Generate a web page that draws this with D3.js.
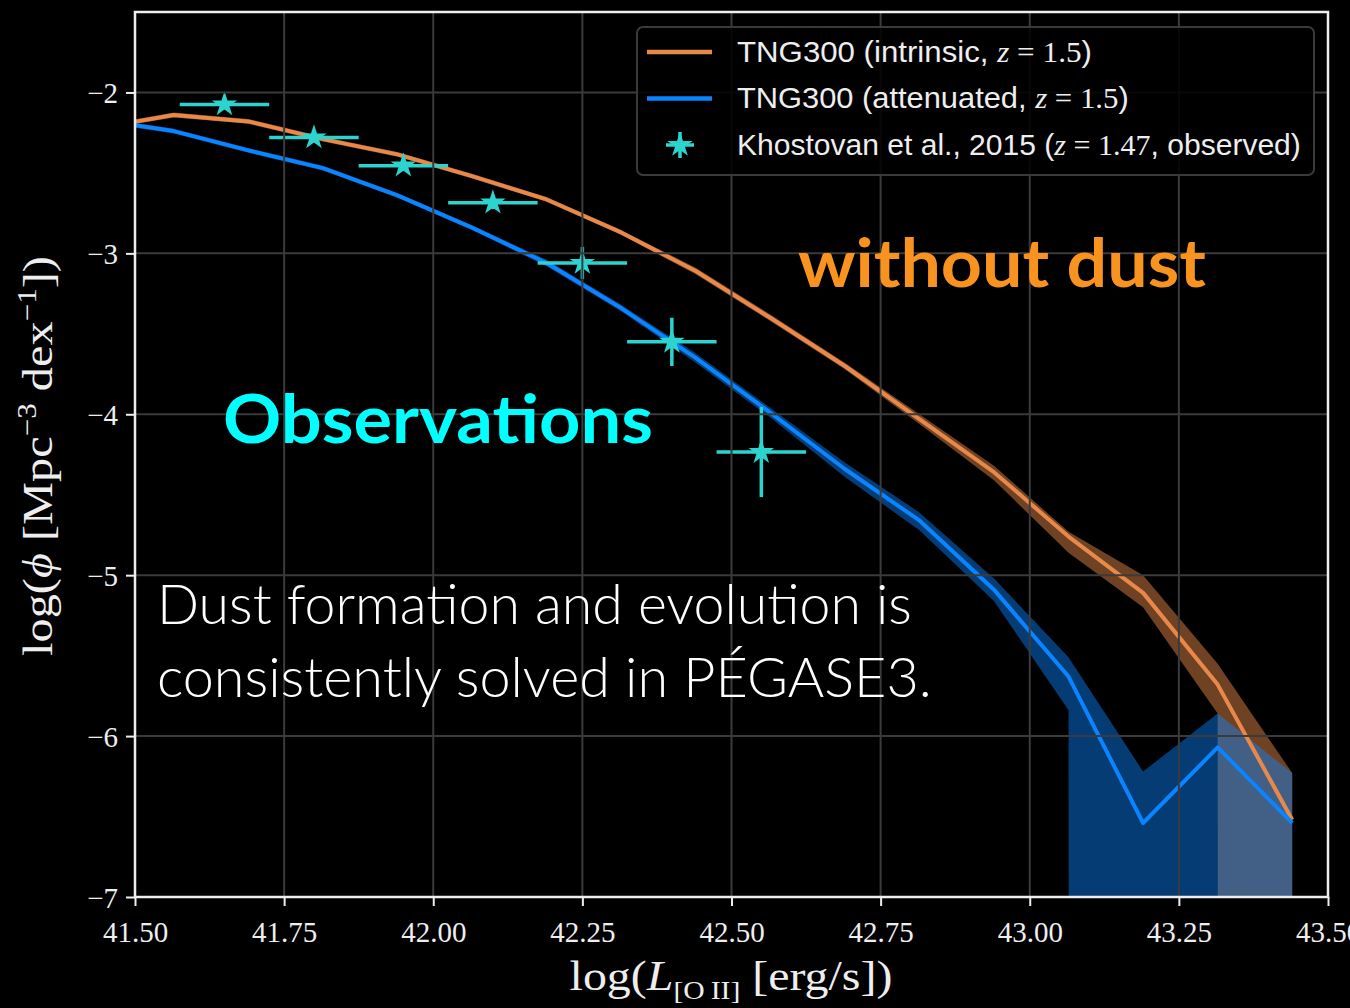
<!DOCTYPE html>
<html>
<head>
<meta charset="utf-8">
<script src="https://cdn.jsdelivr.net/npm/d3@7"></script>
<style>
  body { margin: 0; background: #000; }
</style>
</head>
<body>
<div id="chart"></div>
<script>
// luminosity bins of the simulated [O II] luminosity function
var logL = [41.44, 41.565, 41.69, 41.815, 41.94, 42.065, 42.19, 42.315, 42.44,
            42.565, 42.69, 42.815, 42.94, 43.065, 43.19, 43.315, 43.44];

// TNG300 intrinsic (no dust)
var intrinsic   = [-2.22, -2.14, -2.18, -2.29, -2.385, -2.52, -2.665, -2.87, -3.11,
                   -3.40, -3.70, -4.03, -4.36, -4.76, -5.11, -5.68, -6.52];
var intrinsicHi = [-2.205, -2.125, -2.165, -2.275, -2.37, -2.505, -2.65, -2.855, -3.09,
                   -3.38, -3.68, -4.00, -4.32, -4.73, -5.00, -5.55, -6.23];
var intrinsicLo = [-2.235, -2.155, -2.195, -2.305, -2.40, -2.535, -2.68, -2.885, -3.13,
                   -3.42, -3.72, -4.06, -4.41, -4.86, -5.20, -5.86, -Infinity];

// TNG300 attenuated (with dust)
var attenuated   = [-2.17, -2.24, -2.36, -2.47, -2.64, -2.84, -3.06, -3.34, -3.65,
                    -3.99, -4.34, -4.66, -5.09, -5.63, -6.54, -6.07, -6.54];
var attenuatedHi = [-2.155, -2.225, -2.345, -2.455, -2.625, -2.825, -3.04, -3.32, -3.62,
                    -3.96, -4.30, -4.61, -5.02, -5.51, -6.22, -5.86, -6.23];
var attenuatedLo = [-2.185, -2.255, -2.375, -2.485, -2.655, -2.855, -3.08, -3.36, -3.68,
                    -4.02, -4.39, -4.72, -5.16, -5.84, -Infinity, -Infinity, -Infinity];

// Khostovan et al. 2015, z = 1.47
var obsL    = [41.65, 41.80, 41.95, 42.10, 42.25, 42.40, 42.55];
var obsPhi  = [-2.075, -2.28, -2.455, -2.685, -3.06, -3.55, -4.235];
var obsPhiErr = [0.03, 0.03, 0.03, 0.04, 0.10, 0.15, 0.28];
var obsLErr = [0.075, 0.075, 0.075, 0.075, 0.075, 0.075, 0.075];

var xTicks = [41.5, 41.75, 42.0, 42.25, 42.5, 42.75, 43.0, 43.25, 43.5];
var yTicks = [-7, -6, -5, -4, -3, -2];

var width = 1350, height = 1008;
var margin = {top: 12, right: 22, bottom: 111, left: 135};

var orange = "#e8894a", blue = "#0a84ff", cyan = "#2dd4cf";
var serif = "'Liberation Serif', 'DejaVu Serif', serif";
var sans = "'Liberation Sans Narrow', 'Liberation Sans', Arial, sans-serif";

var x = d3.scaleLinear().domain([41.5, 43.5]).range([margin.left, width - margin.right]);
var y = d3.scaleLinear().domain([-7, -1.5]).range([height - margin.bottom, margin.top]);

// -inf (empty bin) goes far below the frame, like matplotlib does
var yv = v => isFinite(v) ? y(v) : y(-7) + 1e5;

var svg = d3.select("#chart").append("svg")
    .attr("width", width)
    .attr("height", height)
    .style("background", "#000")
    .style("display", "block");

svg.append("clipPath").attr("id", "plot")
  .append("rect")
    .attr("x", margin.left).attr("y", margin.top)
    .attr("width", x.range()[1] - margin.left)
    .attr("height", y.range()[0] - margin.top);

var plot = svg.append("g").attr("clip-path", "url(#plot)");

function band(lo, hi) {
    return d3.area()
        .x((d, i) => x(logL[i]))
        .y0((d, i) => yv(lo[i]))
        .y1((d, i) => yv(hi[i]))(logL);
}

plot.append("path").attr("d", band(intrinsicLo, intrinsicHi))
    .attr("fill", orange).attr("fill-opacity", 0.48);
plot.append("path").attr("d", band(attenuatedLo, attenuatedHi))
    .attr("fill", blue).attr("fill-opacity", 0.45);

// grid (above fills, below lines)
var grid = svg.append("g").attr("stroke", "#3b3b3b").attr("stroke-width", 2);
grid.selectAll(".gx").data(xTicks).join("line")
    .attr("x1", d => x(d)).attr("x2", d => x(d))
    .attr("y1", margin.top).attr("y2", y.range()[0]);
grid.selectAll(".gy").data(yTicks).join("line")
    .attr("x1", margin.left).attr("x2", x.range()[1])
    .attr("y1", d => y(d)).attr("y2", d => y(d));

var line = vals => d3.line().x((d, i) => x(logL[i])).y((d, i) => y(vals[i]))(logL);

plot.append("path").attr("d", line(intrinsic))
    .attr("fill", "none").attr("stroke", orange).attr("stroke-width", 4)
    .attr("stroke-linejoin", "round");
plot.append("path").attr("d", line(attenuated))
    .attr("fill", "none").attr("stroke", blue).attr("stroke-width", 4)
    .attr("stroke-linejoin", "round");

// observations: error bars + stars
var obs = obsL.map((d, i) => ({l: d, phi: obsPhi[i], ep: obsPhiErr[i], el: obsLErr[i]}));
var eb = plot.append("g").attr("stroke", cyan).attr("stroke-width", 3.5);
eb.selectAll(".h").data(obs).join("line")
    .attr("x1", d => x(d.l - d.el)).attr("x2", d => x(d.l + d.el))
    .attr("y1", d => y(d.phi)).attr("y2", d => y(d.phi));
eb.selectAll(".v").data(obs).join("line")
    .attr("x1", d => x(d.l)).attr("x2", d => x(d.l))
    .attr("y1", d => y(d.phi - d.ep)).attr("y2", d => y(d.phi + d.ep));

var star = d3.symbol(d3.symbolStar, 200);
plot.selectAll(".star").data(obs).join("path")
    .attr("d", star)
    .attr("transform", d => `translate(${x(d.l)},${y(d.phi)})`)
    .attr("fill", cyan);

// axes
var xAxis = svg.append("g")
    .attr("transform", `translate(0,${y.range()[0]})`)
    .call(d3.axisBottom(x).tickValues(xTicks).tickFormat(d3.format(".2f")).tickSize(9).tickPadding(8));
var yAxis = svg.append("g")
    .attr("transform", `translate(${margin.left},0)`)
    .call(d3.axisLeft(y).tickValues(yTicks).tickFormat(d3.format("d")).tickSize(9).tickPadding(8));

[xAxis, yAxis].forEach(a => {
    a.select(".domain").remove();
    a.selectAll(".tick line").attr("stroke", "#eee").attr("stroke-width", 2);
    a.selectAll(".tick text").attr("fill", "#eee")
        .style("font-family", serif).style("font-size", "29px");
});
xAxis.selectAll(".tick text").attr("dy", "0.95em");
yAxis.selectAll(".tick text").attr("dy", "0.35em");

svg.append("rect")
    .attr("x", margin.left).attr("y", margin.top)
    .attr("width", x.range()[1] - margin.left)
    .attr("height", y.range()[0] - margin.top)
    .attr("fill", "none").attr("stroke", "#eee").attr("stroke-width", 2.5);

// squeeze/stretch a text horizontally around its anchor point
function fitWidth(t, w) {
    var len = t.node().getComputedTextLength();
    var x0 = +t.attr("x") || 0;
    var k = w / len;
    t.attr("transform", `translate(${x0 * (1 - k)},0) scale(${k},1)`);
}

// axis titles
var xl = svg.append("text")
    .attr("x", 731).attr("y", 990)
    .attr("text-anchor", "middle")
    .attr("fill", "#eee")
    .style("font-family", serif).style("font-size", "42px");
xl.append("tspan").text("log(");
xl.append("tspan").attr("font-style", "italic").text("L");
xl.append("tspan").attr("dy", 9).style("font-size", "26px").text("[O\u2009II]");
xl.append("tspan").attr("dy", -9).text(" [erg/s])");
fitWidth(xl, 323);

var yg = svg.append("g").attr("transform", "translate(52,456) rotate(-90)");
var yl = yg.append("text")
    .attr("x", 0).attr("y", 0)
    .attr("text-anchor", "middle")
    .attr("fill", "#eee")
    .style("font-family", serif).style("font-size", "42px");
yl.append("tspan").text("log(");
yl.append("tspan").attr("font-style", "italic").text("\u03d5");
yl.append("tspan").text(" [Mpc");
yl.append("tspan").attr("dy", -16).style("font-size", "27px").text("\u22123");
yl.append("tspan").attr("dy", 16).text(" dex");
yl.append("tspan").attr("dy", -16).style("font-size", "27px").text("\u22121");
yl.append("tspan").attr("dy", 16).text("])");
fitWidth(yl, 400);

// legend
var lg = svg.append("g");
lg.append("rect")
    .attr("x", 637).attr("y", 27).attr("width", 677).attr("height", 148)
    .attr("rx", 6)
    .attr("fill", "#000").attr("fill-opacity", 0.85)
    .attr("stroke", "#3a3a3a").attr("stroke-width", 2);

var legendItems = [
    {kind: "line", color: orange, pre: "TNG300 (intrinsic, ", z: "1.5", post: ")", w: 355},
    {kind: "line", color: blue, pre: "TNG300 (attenuated, ", z: "1.5", post: ")", w: 392},
    {kind: "obs", color: cyan, pre: "Khostovan et al., 2015 (", z: "1.47", post: ", observed)", w: 564}
];
legendItems.forEach((it, i) => {
    var cy = 52 + i * 46.5;
    if (it.kind === "line") {
        lg.append("line").attr("x1", 647).attr("x2", 712).attr("y1", cy).attr("y2", cy)
            .attr("stroke", it.color).attr("stroke-width", 4.5);
    } else {
        lg.append("line").attr("x1", 666).attr("x2", 694).attr("y1", cy).attr("y2", cy)
            .attr("stroke", it.color).attr("stroke-width", 3.5);
        lg.append("line").attr("x1", 680).attr("x2", 680).attr("y1", cy - 13).attr("y2", cy + 13)
            .attr("stroke", it.color).attr("stroke-width", 3.5);
        lg.append("path").attr("d", star).attr("transform", `translate(680,${cy})`)
            .attr("fill", it.color);
    }
    var t = lg.append("text")
        .attr("x", 737).attr("y", cy + 10)
        .attr("fill", "#eee")
        .style("font-family", sans).style("font-size", "30px");
    t.append("tspan").text(it.pre);
    t.append("tspan").style("font-family", serif).attr("font-style", "italic").text("z");
    t.append("tspan").style("font-family", serif).text(" = " + it.z);
    t.append("tspan").text(it.post);
    fitWidth(t, it.w);
});

// annotations
var a1 = svg.append("text")
    .attr("x", 798).attr("y", 287)
    .attr("fill", "#f7931e")
    .style("font-family", "Lato, 'Open Sans', sans-serif").style("font-weight", 700)
    .style("font-size", "66px")
    .text("without dust");
fitWidth(a1, 408);

var a2 = svg.append("text")
    .attr("x", 223).attr("y", 443)
    .attr("fill", "#00ffff")
    .style("font-family", "Lato, 'Open Sans', sans-serif").style("font-weight", 700)
    .style("font-size", "66px")
    .text("Observations");
fitWidth(a2, 430);

var a3 = svg.append("text")
    .attr("x", 157).attr("y", 624)
    .attr("fill", "#fff")
    .style("font-family", "Lato, 'Open Sans', sans-serif").style("font-weight", 300)
    .style("font-size", "55px")
    .text("Dust formation and evolution is");
fitWidth(a3, 755);

var a4 = svg.append("text")
    .attr("x", 157).attr("y", 697)
    .attr("fill", "#fff")
    .style("font-family", "Lato, 'Open Sans', sans-serif").style("font-weight", 300)
    .style("font-size", "55px")
    .text("consistently solved in PÉGASE3.");
fitWidth(a4, 775);
</script>
</body>
</html>
